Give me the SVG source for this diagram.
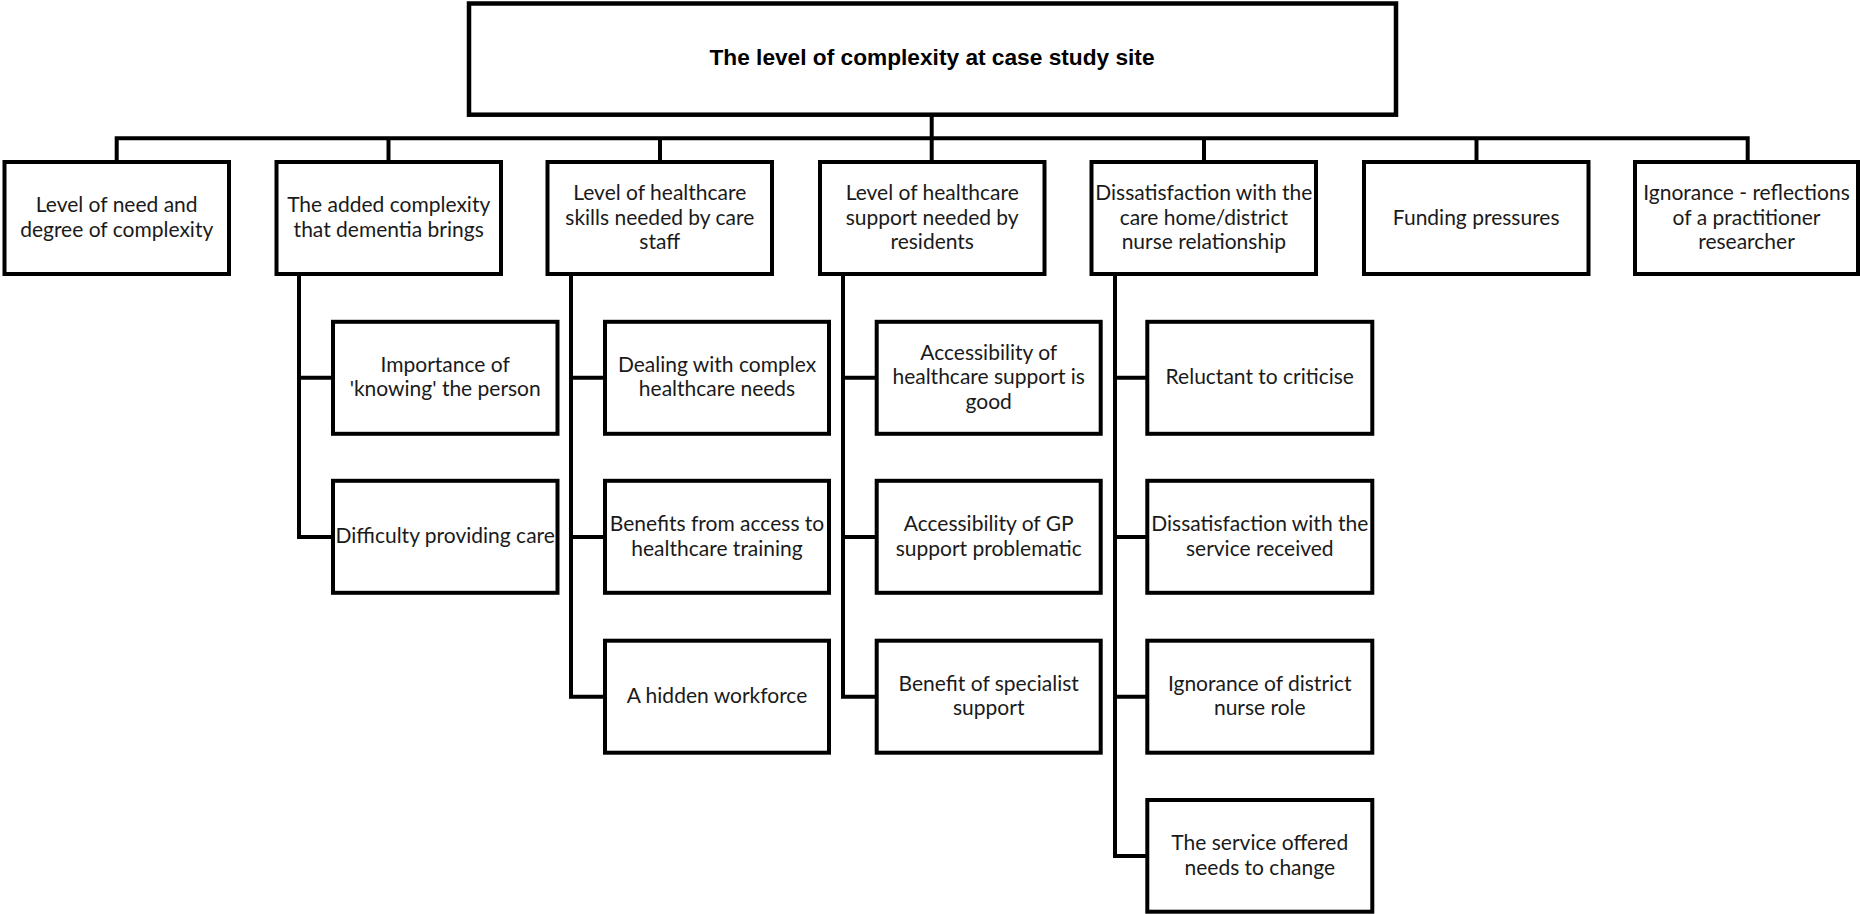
<svg xmlns="http://www.w3.org/2000/svg" width="1860" height="914" viewBox="0 0 1860 914">
<style>
  .box { fill: #fff; stroke: #000; stroke-width: 4; }
  .root { fill: #fff; stroke: #000; stroke-width: 4.5; }
  .con { fill: none; stroke: #000; stroke-width: 4; stroke-linejoin: miter; stroke-linecap: butt; }
  .t { font-family: Lato, "Liberation Sans", sans-serif; font-size: 21px; fill: #1a1a1a; text-anchor: middle; }
  .title { font-family: "Liberation Sans", Arial, sans-serif; font-weight: bold; font-size: 22.7px; fill: #000; text-anchor: middle; }
</style>
<rect width="1860" height="914" fill="#fff"/>

<g id="connectors">
  <path class="con" d="M931.7 114.7 V162"/>
  <path class="con" d="M116.7 162 V138.3 H1747.7 V162"/>
  <path class="con" d="M388.5 138.3 V162"/>
  <path class="con" d="M660 138.3 V162"/>
  <path class="con" d="M1204 138.3 V162"/>
  <path class="con" d="M1476.5 138.3 V162"/>
  <path class="con" d="M299 274 V537 H333"/>
  <path class="con" d="M299 377.8 H333"/>
  <path class="con" d="M571 274 V696.7 H605"/>
  <path class="con" d="M571 377.8 H605 M571 537 H605"/>
  <path class="con" d="M843 274 V696.7 H876.7"/>
  <path class="con" d="M843 377.8 H876.7 M843 537 H876.7"/>
  <path class="con" d="M1115 274 V856 H1147.3"/>
  <path class="con" d="M1115 377.8 H1147.3 M1115 537 H1147.3 M1115 696.7 H1147.3"/>
</g>

<g id="root">
  <rect class="root" x="469" y="3.5" width="927" height="111.2"/>
  <text class="title" x="932" y="65">The level of complexity at case study site</text>
</g>

<g id="n1">
  <rect class="box" x="4.5" y="162" width="224.5" height="112"/>
  <text class="t"><tspan x="116.7" y="212">Level of need and</tspan><tspan x="116.7" y="236.5">degree of complexity</tspan></text>
</g>
<g id="n2">
  <rect class="box" x="276.5" y="162" width="224.5" height="112"/>
  <text class="t"><tspan x="388.7" y="212">The added complexity</tspan><tspan x="388.7" y="236.5">that dementia brings</tspan></text>
</g>
<g id="n3">
  <rect class="box" x="547.5" y="162" width="224.5" height="112"/>
  <text class="t"><tspan x="659.8" y="200">Level of healthcare</tspan><tspan x="659.8" y="224.5">skills needed by care</tspan><tspan x="659.8" y="249">staff</tspan></text>
</g>
<g id="n4">
  <rect class="box" x="820" y="162" width="224.5" height="112"/>
  <text class="t"><tspan x="932.2" y="200">Level of healthcare</tspan><tspan x="932.2" y="224.5">support needed by</tspan><tspan x="932.2" y="249">residents</tspan></text>
</g>
<g id="n5">
  <rect class="box" x="1091.5" y="162" width="224.5" height="112"/>
  <text class="t"><tspan x="1203.8" y="200">Dissatisfaction with the</tspan><tspan x="1203.8" y="224.5">care home/district</tspan><tspan x="1203.8" y="249">nurse relationship</tspan></text>
</g>
<g id="n6">
  <rect class="box" x="1364" y="162" width="224.5" height="112"/>
  <text class="t" x="1476.2" y="224.5">Funding pressures</text>
</g>
<g id="n7">
  <rect class="box" x="1635" y="162" width="223" height="112"/>
  <text class="t"><tspan x="1746.5" y="200">Ignorance - reflections</tspan><tspan x="1746.5" y="224.5">of a practitioner</tspan><tspan x="1746.5" y="249">researcher</tspan></text>
</g>

<g id="a1">
  <rect class="box" x="333" y="321.8" width="224.5" height="112"/>
  <text class="t"><tspan x="445.2" y="371.8">Importance of</tspan><tspan x="445.2" y="396.3">'knowing' the person</tspan></text>
</g>
<g id="a2">
  <rect class="box" x="333" y="480.8" width="224.5" height="112"/>
  <text class="t" x="445.2" y="543.3">Difficulty providing care</text>
</g>

<g id="b1">
  <rect class="box" x="605" y="321.8" width="224" height="112"/>
  <text class="t"><tspan x="717" y="371.8">Dealing with complex</tspan><tspan x="717" y="396.3">healthcare needs</tspan></text>
</g>
<g id="b2">
  <rect class="box" x="605" y="480.8" width="224" height="112"/>
  <text class="t"><tspan x="717" y="531">Benefits from access to</tspan><tspan x="717" y="555.5">healthcare training</tspan></text>
</g>
<g id="b3">
  <rect class="box" x="605" y="640.7" width="224" height="112"/>
  <text class="t" x="717" y="703">A hidden workforce</text>
</g>

<g id="c1">
  <rect class="box" x="876.7" y="321.8" width="224" height="112"/>
  <text class="t"><tspan x="988.7" y="359.6">Accessibility of</tspan><tspan x="988.7" y="384.1">healthcare support is</tspan><tspan x="988.7" y="408.6">good</tspan></text>
</g>
<g id="c2">
  <rect class="box" x="876.7" y="480.8" width="224" height="112"/>
  <text class="t"><tspan x="988.7" y="531">Accessibility of GP</tspan><tspan x="988.7" y="555.5">support problematic</tspan></text>
</g>
<g id="c3">
  <rect class="box" x="876.7" y="640.7" width="224" height="112"/>
  <text class="t"><tspan x="988.7" y="690.8">Benefit of specialist</tspan><tspan x="988.7" y="715.3">support</tspan></text>
</g>

<g id="d1">
  <rect class="box" x="1147.3" y="321.8" width="225" height="112"/>
  <text class="t" x="1259.8" y="384.3">Reluctant to criticise</text>
</g>
<g id="d2">
  <rect class="box" x="1147.3" y="480.8" width="225" height="112"/>
  <text class="t"><tspan x="1259.8" y="531">Dissatisfaction with the</tspan><tspan x="1259.8" y="555.5">service received</tspan></text>
</g>
<g id="d3">
  <rect class="box" x="1147.3" y="640.7" width="225" height="112"/>
  <text class="t"><tspan x="1259.8" y="690.8">Ignorance of district</tspan><tspan x="1259.8" y="715.3">nurse role</tspan></text>
</g>
<g id="d4">
  <rect class="box" x="1147.3" y="800" width="225" height="111.7"/>
  <text class="t"><tspan x="1259.8" y="850.1">The service offered</tspan><tspan x="1259.8" y="874.6">needs to change</tspan></text>
</g>
</svg>
